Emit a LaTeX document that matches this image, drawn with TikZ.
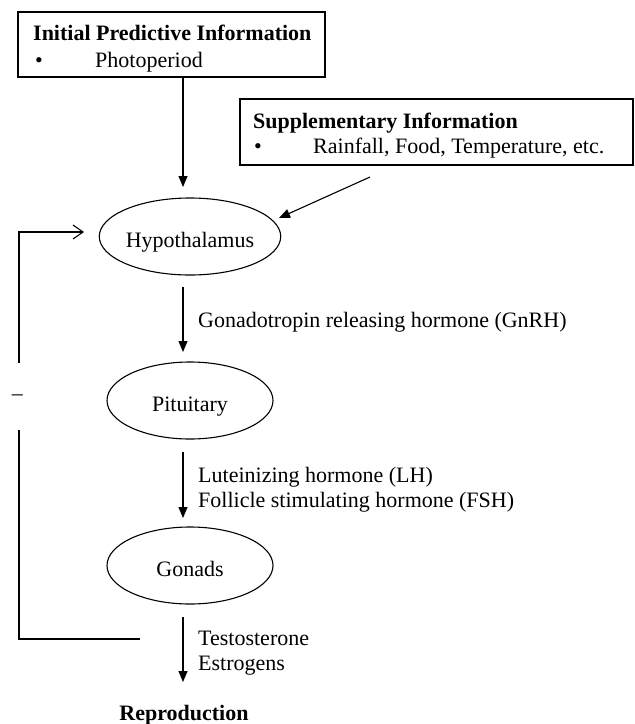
\documentclass[tikz,border=0pt]{standalone}
\usepackage{fontspec}
\setmainfont{Liberation Serif}
\usetikzlibrary{shapes.geometric,arrows.meta,calc}
\begin{document}
\begin{tikzpicture}[x=1pt,y=-1pt,
  every node/.style={font=\fontsize{22}{25}\selectfont, inner sep=0pt},
  box/.style={draw, line width=1.1pt, rectangle},
  oval/.style={draw, line width=1.1pt, ellipse, minimum width=166pt, minimum height=77pt, text height=21pt, text depth=0pt},
  txt/.style={anchor=base west},
  bold/.style={anchor=base west, font=\fontsize{22}{25}\selectfont\bfseries},
  arr/.style={line width=1.1pt, -{Triangle[length=11pt,width=9pt]}},
  fb/.style={line width=1.1pt}]
\useasboundingbox (0,0) rectangle (635,724);

% boxes
\node[box, minimum width=307pt, minimum height=65pt] (ipi) at (171.5,44.5) {};
\node[bold] (ipit) at (33,40) {Initial Predictive Information};
\node[txt] (ipib) at (35,67) {•};
\node[txt] (ipip) at (95,67) {Photoperiod};

\node[box, minimum width=393pt, minimum height=66pt] (sup) at (436.5,132) {};
\node[bold] (supt) at (253,128) {Supplementary Information};
\node[txt] (supb) at (254,153) {•};
\node[txt] (supr) at (313,153) {Rainfall, Food, Temperature, etc.};

% ellipses
\node[oval] (hyp) at (190,236.5) {Hypothalamus};
\node[oval] (pit) at (190,400.5) {Pituitary};
\node[oval] (gon) at (190,565.5) {Gonads};

% arrows
\coordinate (h2) at (183,187);
\draw[arr] (ipi.south -| h2) -- (h2);
\coordinate (s1) at (370,177);
\coordinate (s2) at (279,218);
\draw[arr] (s1) -- (s2);

\coordinate (g1) at (183,287);
\coordinate (g2) at (183,352);
\draw[arr] (g1) -- (g2);
\node[txt] (gnrh) at (198,327) {Gonadotropin releasing hormone (GnRH)};

\coordinate (l1) at (183,452);
\coordinate (l2) at (183,518);
\draw[arr] (l1) -- (l2);
\node[txt] (lh) at (198,482) {Luteinizing hormone (LH)};
\node[txt] (fsh) at (198,507) {Follicle stimulating hormone (FSH)};

\coordinate (t1) at (183,617);
\coordinate (t2) at (183,682);
\draw[arr] (t1) -- (t2);
\node[txt] (tes) at (198,645) {Testosterone};
\node[txt] (est) at (198,670) {Estrogens};

\node[bold, anchor=base] (rep) at (184,720) {Reproduction};

% feedback loop
\coordinate (f0) at (140,639);
\coordinate (f1) at (19,639);
\coordinate (f2) at (19,430);
\draw[fb] (f0) -- (f1) -- (f2);
\coordinate (f3) at (19,363);
\coordinate (f4) at (19,232);
\coordinate (f5) at (84,232);
\draw[fb, -{Straight Barb[length=10pt,width=14pt]}] (f3) -- (f4) -- (f5);
\node[anchor=base] (minus) at (17.5,400) {–};
\end{tikzpicture}
\end{document}
